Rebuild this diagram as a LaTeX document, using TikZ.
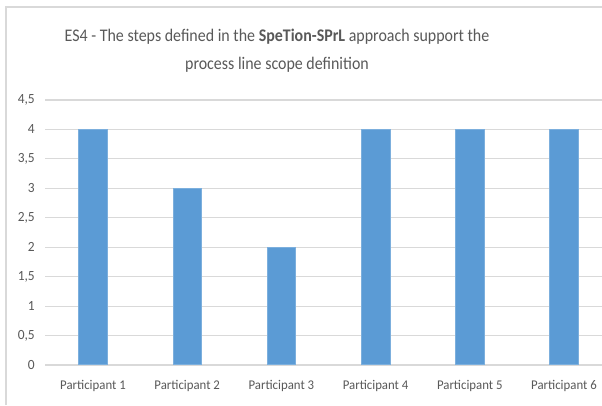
\documentclass[tikz,border=0pt]{standalone}
\usepackage{fontspec}
\setmainfont{Carlito}
\newfontfamily\titlefont[FakeStretch=0.9]{Carlito}
\newfontfamily\labelfont[FakeStretch=0.96]{Carlito}
\definecolor{barblue}{HTML}{5B9BD5}
\definecolor{gridgray}{HTML}{D9D9D9}
\definecolor{txtgray}{HTML}{595959}
\definecolor{framegray}{HTML}{D9D9D9}
\begin{document}
\begin{tikzpicture}[x=0.75pt,y=-0.75pt,
  bar/.style={fill=barblue,draw=barblue!80!white,line width=0.4pt},
  gridline/.style={draw=gridgray,line width=0.9pt},
  ylab/.style={anchor=east,text=txtgray,font=\labelfont\fontsize{10.5}{11}\selectfont,inner sep=0pt},
  xlab/.style={anchor=center,text=txtgray,font=\labelfont\fontsize{10}{11}\selectfont,inner sep=0pt},
  titlestyle/.style={align=center,text=txtgray,font=\titlefont\fontsize{13.3}{21}\selectfont,inner sep=0pt}]
\useasboundingbox (0,0) rectangle (602,405);
\fill[white] (0,0) rectangle (602,405);
% frame
\draw[framegray,line width=1pt] (6,405) -- (6,7) -- (602,7);
% title
\node[titlestyle] (title) at (277,51) {ES4 - The steps defined in the \textbf{SpeTion-SPrL} approach support the\\process line scope definition};
% gridlines and y labels
\foreach \v/\lab [count=\i] in {0/0,0.5/{0,5},1/1,1.5/{1,5},2/2,2.5/{2,5},3/3,3.5/{3,5},4/4,4.5/{4,5}} {
  \coordinate (gl\i) at (45,{365-\v*58.89});
  \coordinate (gr\i) at (602,{365-\v*58.89});
  \draw[gridline] (gl\i) -- (gr\i);
  \node[ylab] (yl\i) at (35,{365-\v*58.89}) {\lab};
}
% bars
\foreach \val [count=\i] in {4,3,2,4,4,4} {
  \pgfmathsetmacro{\cx}{93+94.2*(\i-1)}
  \node[bar,inner sep=0pt,minimum width=28.6*0.75pt,minimum height={\val*58.89*0.75pt},anchor=south] (bar\i) at (\cx,365) {};
  \node[xlab] (xl\i) at (\cx,386) {Participant \i};
}
\end{tikzpicture}
\end{document}
